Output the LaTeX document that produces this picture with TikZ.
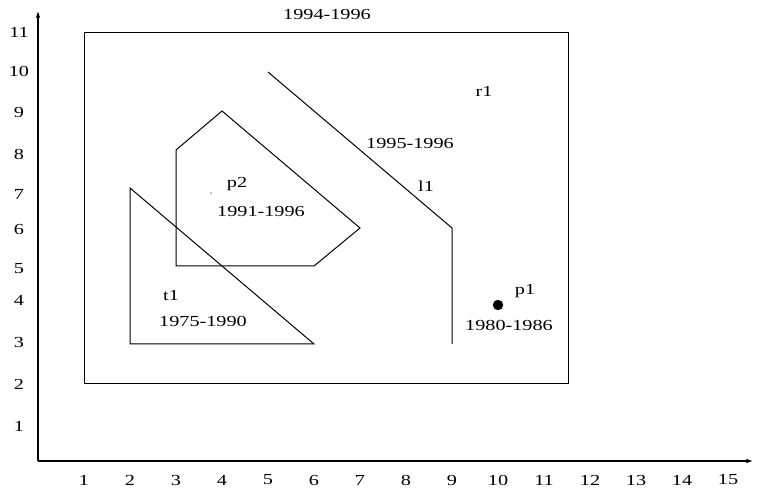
\documentclass[tikz,border=0pt]{standalone}
\usepackage{fontspec}
\setmainfont{Liberation Serif}
\usetikzlibrary{arrows.meta}
\tikzset{
  lbl/.style={inner sep=0pt, font=\fontsize{11.5}{13}\selectfont},
  shp/.style={line width=0.75pt, line join=miter},
  ax/.style={line width=0.85pt, -{Latex[length=5pt,width=3.5pt]}}
}
\newcommand{\wt}[1]{\scalebox{1.32}[1]{#1}}
\begin{document}
\begin{tikzpicture}[x=0.75pt,y=-0.75pt]
\useasboundingbox (0,0) rectangle (767,491);
% axes
\coordinate (o) at (38,461);
\coordinate (xe) at (753,461);
\coordinate (ye) at (38,11);
\draw[ax] (o) -- (xe);
\draw[ax] (o) -- (ye);
% x labels
\foreach \i in {1,...,15} {
  \node[lbl] (x\i) at ({38+46*\i},480) {\wt{\i}};
}
% y labels
\foreach \i/\yy in {1/426,2/384,3/342,4/300,5/269,6/230,7/194,8/154,9/113,10/71,11/32} {
  \node[lbl] (y\i) at (19,\yy) {\wt{\i}};
}
% r1 rectangle
\draw[shp] (84,33) rectangle (568,383);
% triangle t1
\draw[shp] (130,188) -- (130,344) -- (314,344) -- cycle;
% polygon p2
\draw[shp] (176,150) -- (222,111) -- (360,228) -- (314,266) -- (176,266) -- cycle;
% line l1
\draw[shp] (268,72) -- (452,228) -- (452,344);
% point p1
\fill (498,305) circle (5.2);
\fill (211,193) circle (0.6);
% texts
\node[lbl] (tr) at (327,15) {\wt{1994-1996}};
\node[lbl] (tr1) at (484,91) {\wt{r1}};
\node[lbl] (tl1d) at (410,144) {\wt{1995-1996}};
\node[lbl] (tl1) at (426,186) {\wt{l1}};
\node[lbl] (tp2) at (237,184) {\wt{p2}};
\node[lbl] (tp2d) at (261,212) {\wt{1991-1996}};
\node[lbl] (tt1) at (171,296) {\wt{t1}};
\node[lbl] (tt1d) at (203,321) {\wt{1975-1990}};
\node[lbl] (tp1) at (525,291) {\wt{p1}};
\node[lbl] (tp1d) at (509,325) {\wt{1980-1986}};
\end{tikzpicture}
\end{document}
